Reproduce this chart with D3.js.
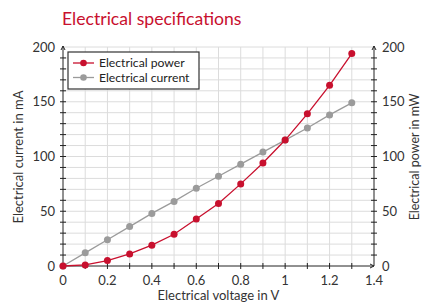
<!DOCTYPE html>
<html>
<head>
<meta charset="utf-8">
<script src="https://cdn.jsdelivr.net/npm/d3@7"></script>
<style>
  body { margin: 0; background: #fff; }
  text { font-family: Lato, "Open Sans", sans-serif; }
</style>
</head>
<body>
<svg width="422" height="307"></svg>
<script>
const voltage = [0, 0.1, 0.2, 0.3, 0.4, 0.5, 0.6, 0.7, 0.8, 0.9, 1.0, 1.1, 1.2, 1.3];
const current = [0, 12, 24, 36, 48, 59, 71, 82, 93, 104, 115, 126, 138, 149];
const power = [0, 1, 5, 11, 19, 29, 43, 57, 75, 94, 115, 139, 165, 194];
const xTicks = [0, 0.2, 0.4, 0.6, 0.8, 1, 1.2, 1.4];
const yTicks = [0, 50, 100, 150, 200];
const seriesNames = ["Electrical power", "Electrical current"];

const red = "#c8102e";
const grey = "#9b9b9b";

const svg = d3.select("svg");
const margin = { top: 47, right: 48, bottom: 41, left: 63 };
const width = 422 - margin.left - margin.right;
const height = 307 - margin.top - margin.bottom;

const x = d3.scaleLinear().domain([0, 1.4]).range([0, width]);
const y = d3.scaleLinear().domain([0, 200]).range([height, 0]);
const y2 = d3.scaleLinear().domain([0, 200]).range([height, 0]);

svg.append("text")
    .attr("x", 62).attr("y", 25)
    .attr("fill", red)
    .style("font-size", "17.6px")
    .text("Electrical specifications");

const g = svg.append("g")
    .attr("transform", "translate(" + margin.left + "," + margin.top + ")");

// grid
g.selectAll(".vgrid")
    .data(d3.range(1, 14).map(i => i / 10))
    .enter().append("line")
        .attr("x1", d => x(d)).attr("x2", d => x(d))
        .attr("y1", 0).attr("y2", height)
        .attr("stroke", "#dcdcdc");
g.selectAll(".hgrid")
    .data(d3.range(10, 210, 10))
    .enter().append("line")
        .attr("x1", 0).attr("x2", width)
        .attr("y1", d => y(d)).attr("y2", d => y(d))
        .attr("stroke", "#dcdcdc");

// axes lines + ticks
const axisColor = "#222";
g.append("line").attr("x1", 0).attr("x2", 0).attr("y1", height).attr("y2", -1).attr("stroke", axisColor);
g.append("line").attr("x1", width).attr("x2", width).attr("y1", height).attr("y2", -1).attr("stroke", axisColor);
g.append("line").attr("x1", 0).attr("x2", width).attr("y1", height).attr("y2", height).attr("stroke", axisColor);

function arrowUp(px) {
    g.append("path")
        .attr("d", `M${px - 2},${3} L${px},-1 L${px + 2},${3}`)
        .attr("fill", "none").attr("stroke", axisColor);
}
arrowUp(0);
arrowUp(width);
g.append("path")
    .attr("d", `M${width - 4},${height - 2} L${width},${height} L${width - 4},${height + 2}`)
    .attr("fill", "none").attr("stroke", axisColor);

const minorY = d3.range(10, 200, 10);
[0, width].forEach(px => {
    g.selectAll(null)
        .data(minorY)
        .enter().append("line")
            .attr("x1", px - 3).attr("x2", px + 3)
            .attr("y1", d => y(d)).attr("y2", d => y(d))
            .attr("stroke", axisColor);
});
g.selectAll(null)
    .data(d3.range(1, 14).map(i => i / 10))
    .enter().append("line")
        .attr("x1", d => x(d)).attr("x2", d => x(d))
        .attr("y1", height - 3).attr("y2", height + 3)
        .attr("stroke", axisColor);

// tick labels
const tickColor = "#333";
const fs = "13px";
g.selectAll(".ylab")
    .data(yTicks)
    .enter().append("text")
        .attr("x", -8).attr("y", d => y(d) + 4.5)
        .attr("text-anchor", "end")
        .attr("fill", tickColor)
        .style("font-size", fs)
        .text(d => d);
g.selectAll(".y2lab")
    .data(yTicks)
    .enter().append("text")
        .attr("x", width + 8).attr("y", d => y2(d) + 4.5)
        .attr("fill", tickColor)
        .style("font-size", fs)
        .text(d => d);
g.selectAll(".xlab")
    .data(xTicks)
    .enter().append("text")
        .attr("x", d => x(d)).attr("y", height + 19)
        .attr("text-anchor", "middle")
        .attr("fill", tickColor)
        .style("font-size", fs)
        .text(d => d);

// axis titles
svg.append("text")
    .attr("x", margin.left + width / 2).attr("y", 300)
    .attr("text-anchor", "middle")
    .attr("fill", tickColor)
    .style("font-size", fs)
    .text("Electrical voltage in V");
svg.append("text")
    .attr("transform", "translate(23,157) rotate(-90)")
    .attr("text-anchor", "middle")
    .attr("fill", tickColor)
    .style("font-size", fs)
    .text("Electrical current in mA");
svg.append("text")
    .attr("transform", "translate(419,157) rotate(-90)")
    .attr("text-anchor", "middle")
    .attr("fill", tickColor)
    .style("font-size", "12.5px")
    .text("Electrical power in mW");

// series
const series = [
    { name: seriesNames[1], values: current, color: grey, scale: y },
    { name: seriesNames[0], values: power, color: red, scale: y2 }
];
const line = (sc) => d3.line().x((d, i) => x(voltage[i])).y(d => sc(d));

series.forEach(s => {
    g.append("path")
        .datum(s.values)
        .attr("fill", "none")
        .attr("stroke", s.color)
        .attr("stroke-width", 1.3)
        .attr("d", line(s.scale));
    g.selectAll(null)
        .data(s.values)
        .enter().append("circle")
            .attr("cx", (d, i) => x(voltage[i]))
            .attr("cy", d => s.scale(d))
            .attr("r", 3.5)
            .attr("fill", s.color);
});

// legend
const lg = svg.append("g").attr("transform", "translate(68,52)");
lg.append("rect")
    .attr("width", 131).attr("height", 37)
    .attr("fill", "#fff").attr("stroke", "#333").attr("stroke-width", 1.2);
[{ name: seriesNames[0], color: red }, { name: seriesNames[1], color: grey }].forEach((d, i) => {
    const row = lg.append("g").attr("transform", "translate(0," + (11 + i * 14.5) + ")");
    row.append("line").attr("x1", 5).attr("x2", 26).attr("stroke", d.color).attr("stroke-width", 1.3);
    row.append("circle").attr("cx", 15.5).attr("r", 3.3).attr("fill", d.color);
    row.append("text").attr("x", 31).attr("y", 4.2)
        .attr("fill", "#222")
        .style("font-size", "12.2px")
        .text(d.name);
});
</script>
</body>
</html>
